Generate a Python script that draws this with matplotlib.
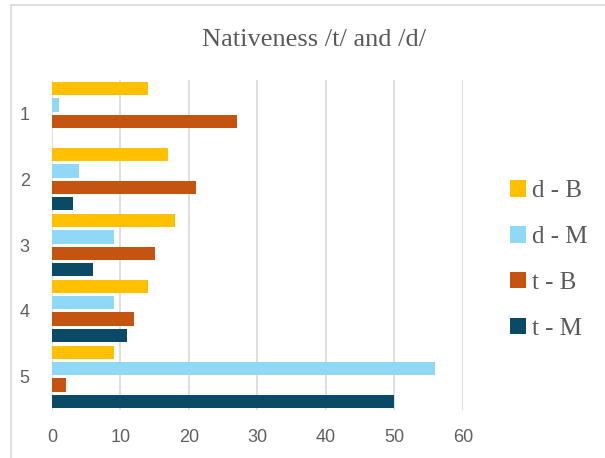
import matplotlib.pyplot as plt
import numpy as np
from matplotlib.lines import Line2D

categories = ["1", "2", "3", "4", "5"]
series_names = ["d - B", "d - M", "t - B", "t - M"]
d_B = [14, 17, 18, 14, 9]
d_M = [1, 4, 9, 9, 56]
t_B = [27, 21, 15, 12, 2]
t_M = [0, 3, 6, 11, 50]
colors = ["#FFC000", "#8FD8F6", "#C4540F", "#0B4A66"]

fig = plt.figure(figsize=(6.05, 4.58), dpi=100)
ax = fig.add_axes([0.086, 0.105, 0.679, 0.72])

y = np.arange(1, len(categories) + 1)
pitch = 0.245
h = 0.2
for i, (vals, name, c) in enumerate(zip([d_B, d_M, t_B, t_M], series_names, colors)):
    off = (i - 1.5) * pitch
    ax.barh(y + off, vals, height=h, color=c, label=name, zorder=3)

ax.set_xlim(0, 60)
ax.set_ylim(5.5, 0.5)
ax.set_xticks(range(0, 61, 10))
ax.set_yticks(y)
ax.set_yticklabels(categories)
ax.grid(axis="x", color="#d9d9d9", linewidth=1.2, zorder=0)
for s in ["top", "right", "bottom"]:
    ax.spines[s].set_visible(False)
ax.spines["left"].set_color("#e0e0e0")
ax.tick_params(length=0, labelsize=13, labelcolor="#606060")
ax.tick_params(axis="x", pad=14)
ax.tick_params(axis="y", pad=16)
for t in ax.get_xticklabels() + ax.get_yticklabels():
    t.set_family(["Liberation Sans Narrow", "Liberation Sans"])

fig.text(0.519, 0.913, "Nativeness /t/ and /d/", ha="center", va="center",
         family="Liberation Serif", fontsize=19, color="#595959")

leg = ax.legend(loc="center left", bbox_to_anchor=(1.06, 0.455), frameon=False,
                prop={"family": "Liberation Serif", "size": 18},
                handlelength=0.65, handleheight=0.65, handletextpad=0.25,
                labelspacing=0.95)
for t in leg.get_texts():
    t.set_color("#595959")

# chart frame
fig.add_artist(Line2D([11 / 605, 11 / 605], [0, 1 - 5 / 458], transform=fig.transFigure,
                      color="#d9d9d9", linewidth=1.2))
fig.add_artist(Line2D([11 / 605, 1], [1 - 5 / 458, 1 - 5 / 458], transform=fig.transFigure,
                      color="#d9d9d9", linewidth=1.2))

fig.savefig("out.png", dpi=100)
